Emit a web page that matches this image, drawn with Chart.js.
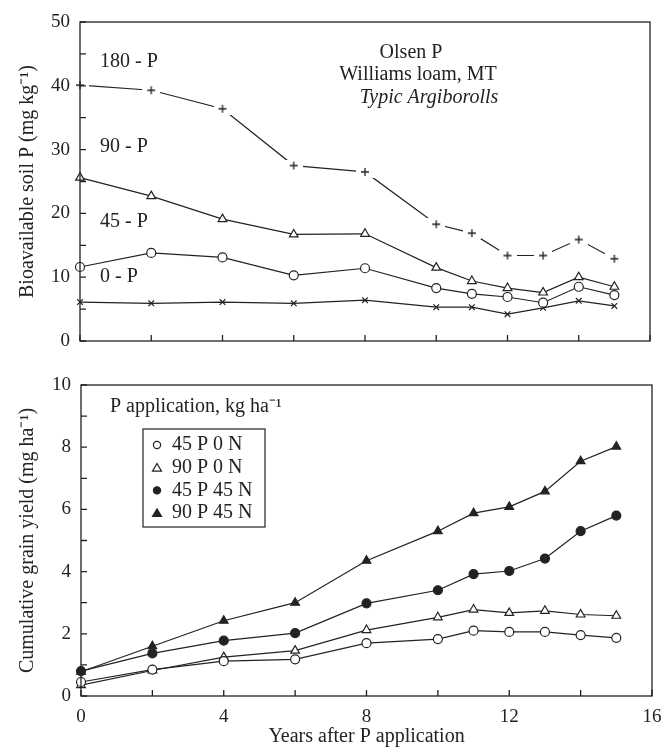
<!DOCTYPE html>
<html>
<head>
<meta charset="utf-8">
<script src="https://cdn.jsdelivr.net/npm/chart.js@4"></script>
<style>
  body { margin: 0; background: #fff; }
  .panel { position: absolute; left: 0; width: 665px; }
</style>
</head>
<body>
<div class="panel" style="top:0;height:360px"><canvas id="soil"></canvas></div>
<div class="panel" style="top:360px;height:393px"><canvas id="grain"></canvas></div>
<script>
// years after P application
const years = [0, 2, 4, 6, 8, 10, 11, 12, 13, 14, 15];

// Olsen P, mg/kg
const olsen180 = [40.1, 39.3, 36.4, 27.5, 26.5, 18.3, 16.9, 13.4, 13.4, 15.9, 12.9];
const olsen90 = [25.6, 22.7, 19.1, 16.7, 16.8, 11.5, 9.4, 8.3, 7.6, 10.0, 8.5];
const olsen45 = [11.6, 13.8, 13.1, 10.3, 11.4, 8.3, 7.4, 6.9, 6.0, 8.5, 7.2];
const olsen0 = [6.1, 5.9, 6.1, 5.9, 6.4, 5.3, 5.3, 4.2, 5.2, 6.3, 5.5];

// cumulative grain yield
const yield45P0N = [0.45, 0.85, 1.12, 1.18, 1.70, 1.83, 2.10, 2.06, 2.06, 1.96, 1.87];
const yield90P0N = [0.35, 0.82, 1.25, 1.46, 2.12, 2.53, 2.78, 2.67, 2.74, 2.62, 2.58];
const yield45P45N = [0.80, 1.37, 1.78, 2.02, 2.98, 3.40, 3.92, 4.02, 4.42, 5.30, 5.80];
const yield90P45N = [0.78, 1.60, 2.42, 3.00, 4.35, 5.30, 5.88, 6.08, 6.58, 7.55, 8.02];

const yieldLabels = ['45 P 0 N', '90 P 0 N', '45 P 45 N', '90 P 45 N'];

const INK = '#222';
const FONT = 'Liberation Serif';
Chart.defaults.font.family = FONT;
Chart.defaults.font.size = 20;
Chart.defaults.color = INK;

function pts(arr) {
  return years.map((x, i) => ({ x: x, y: arr[i] }));
}

// "+" marker with a white halo so the line stops short of it
function plusMarker() {
  const c = document.createElement('canvas');
  c.width = 18; c.height = 12;
  const g = c.getContext('2d');
  g.fillStyle = '#fff';
  g.fillRect(0, 0, 18, 12);
  g.strokeStyle = INK; g.lineWidth = 1.3;
  g.beginPath();
  g.moveTo(5, 6); g.lineTo(13, 6);
  g.moveTo(9, 2); g.lineTo(9, 10);
  g.stroke();
  return c;
}

function series(data, style, fill, radius) {
  return {
    data: pts(data),
    borderColor: INK,
    borderWidth: 1.2,
    pointStyle: style,
    pointRadius: radius,
    pointBorderWidth: 1.2,
    pointBorderColor: INK,
    pointBackgroundColor: fill,
    clip: false
  };
}

// box around the plot and inward tick marks
const frame = {
  id: 'frame',
  afterDatasetsDraw(chart) {
    const { ctx, chartArea: a, scales: { x, y } } = chart;
    ctx.save();
    ctx.strokeStyle = INK;
    ctx.lineWidth = 1.3;
    ctx.strokeRect(a.left, a.top, a.right - a.left, a.bottom - a.top);
    ctx.beginPath();
    x.ticks.forEach(t => {
      const px = x.getPixelForValue(t.value);
      ctx.moveTo(px, a.bottom); ctx.lineTo(px, a.bottom - 6);
    });
    y.ticks.forEach(t => {
      const py = y.getPixelForValue(t.value);
      ctx.moveTo(a.left, py); ctx.lineTo(a.left + 6, py);
    });
    ctx.stroke();
    ctx.restore();
  }
};

function xScale(showLabels, height) {
  return {
    type: 'linear', min: 0, max: 16,
    grid: { display: false }, border: { display: false },
    ticks: {
      display: showLabels, stepSize: 2, autoSkip: false, padding: 2,
      maxRotation: 0, font: { size: 19 },
      callback: v => (v % 4 === 0 ? v : '')
    },
    title: {
      display: showLabels, text: 'Years after P application',
      padding: { top: 0, bottom: 4 }
    },
    afterFit: s => { s.height = height; }
  };
}

function yScale(max, step, labelEvery, title, width) {
  return {
    min: 0, max: max,
    grid: { display: false }, border: { display: false },
    ticks: {
      stepSize: step, autoSkip: false, padding: 2, font: { size: 19 },
      callback: v => (v % labelEvery === 0 ? v : '')
    },
    title: { display: true, text: title, padding: { top: 16, bottom: 0 } },
    afterFit: s => { s.width = width; }
  };
}

// Top panel: bioavailable soil P
const soilNotes = {
  id: 'soilNotes',
  afterDraw(chart) {
    const ctx = chart.ctx;
    ctx.save();
    ctx.fillStyle = INK;
    ctx.textBaseline = 'middle';
    ctx.font = '20px ' + FONT;
    ctx.textAlign = 'left';
    ctx.fillText('180 - P', 100, 62);
    ctx.fillText('90 - P', 100, 147);
    ctx.fillText('45 - P', 100, 222);
    ctx.fillText('0 - P', 100, 277);
    ctx.textAlign = 'center';
    ctx.fillText('Olsen P', 411, 53);
    ctx.fillText('Williams loam, MT', 418, 75);
    ctx.font = 'italic 20px ' + FONT;
    ctx.fillText('Typic Argiborolls', 429, 98);
    ctx.restore();
  }
};

new Chart(document.getElementById('soil'), {
  type: 'line',
  data: {
    datasets: [
      series(olsen180, plusMarker(), '#fff', 4),
      series(olsen90, 'triangle', '#fff', 5),
      series(olsen45, 'circle', '#fff', 4.5),
      series(olsen0, 'crossRot', '#fff', 4)
    ]
  },
  options: {
    responsive: true,
    maintainAspectRatio: false,
    animation: false,
    layout: { padding: { top: 22, right: 15, left: 0, bottom: 0 } },
    plugins: { legend: { display: false }, tooltip: { enabled: false } },
    scales: {
      x: xScale(false, 19),
      y: yScale(50, 5, 10, 'Bioavailable soil P (mg kg\u207B\u00B9)', 80)
    }
  },
  plugins: [frame, soilNotes]
});

// Bottom panel: cumulative grain yield
const grainLegend = {
  id: 'grainLegend',
  afterDraw(chart) {
    const ctx = chart.ctx;
    const styles = chart.data.datasets.map(d => [d.pointStyle, d.pointBackgroundColor]);
    ctx.save();
    ctx.fillStyle = INK;
    ctx.strokeStyle = INK;
    ctx.textBaseline = 'middle';
    ctx.font = '20px ' + FONT;
    ctx.textAlign = 'left';
    ctx.fillText('P application, kg ha\u207B\u00B9', 110, 47);
    ctx.lineWidth = 1.2;
    ctx.strokeRect(143, 69, 122, 98);
    yieldLabels.forEach((lab, i) => {
      const cy = 85 + i * 22.7;
      const [st, bg] = styles[i];
      ctx.beginPath();
      if (st === 'circle') {
        ctx.arc(157, cy, 3.6, 0, Math.PI * 2);
      } else {
        ctx.moveTo(157, cy - 4.2);
        ctx.lineTo(161.5, cy + 3.4);
        ctx.lineTo(152.5, cy + 3.4);
        ctx.closePath();
      }
      ctx.fillStyle = bg;
      ctx.fill();
      ctx.stroke();
      ctx.fillStyle = INK;
      ctx.fillText(lab, 172, cy);
    });
    ctx.restore();
  }
};

new Chart(document.getElementById('grain'), {
  type: 'line',
  data: {
    datasets: [
      series(yield45P0N, 'circle', '#fff', 4.5),
      series(yield90P0N, 'triangle', '#fff', 5),
      series(yield45P45N, 'circle', INK, 4.5),
      series(yield90P45N, 'triangle', INK, 5)
    ]
  },
  options: {
    responsive: true,
    maintainAspectRatio: false,
    animation: false,
    layout: { padding: { top: 25, right: 13, left: 0, bottom: 0 } },
    plugins: { legend: { display: false }, tooltip: { enabled: false } },
    scales: {
      x: xScale(true, 57),
      y: yScale(10, 1, 2, 'Cumulative grain yield (mg ha\u207B\u00B9)', 81)
    }
  },
  plugins: [frame, grainLegend]
});
</script>
</body>
</html>
